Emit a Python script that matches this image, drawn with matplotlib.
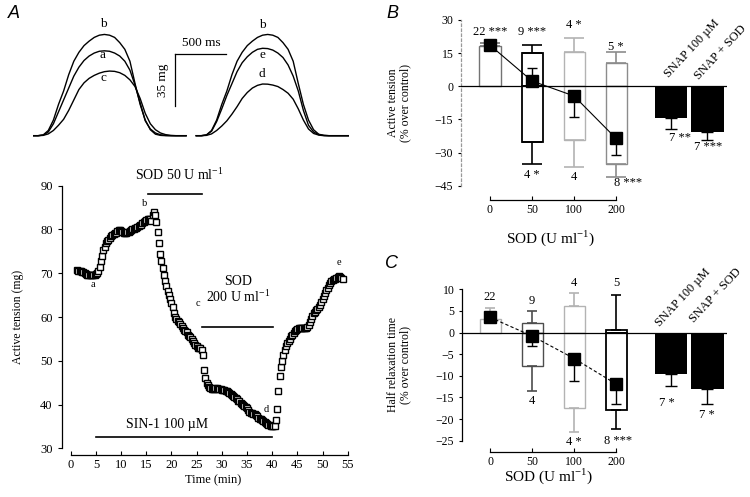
import numpy as np
import matplotlib
matplotlib.use("Agg")
import matplotlib.pyplot as plt

plt.rcParams['font.family'] = ['Liberation Serif', 'DejaVu Serif']
plt.rcParams['mathtext.fontset'] = 'custom'
plt.rcParams['mathtext.rm'] = 'Liberation Serif'
plt.rcParams['axes.linewidth'] = 0.9

# ---------------- DATA ----------------
# A (top): single twitches, mg above baseline, one sample every 50 ms
trace_ms = list(range(0, 1501, 50))
trace_b = [0, 0, 0.5, 3.5, 10.5, 21, 30, 41, 50, 56, 60.5, 63.5, 66, 67.5, 68, 67.5,
           66, 62.5, 58, 50, 35, 21, 10.5, 4, 1, 0.2, 0, 0, 0, 0, 0]
trace_a = [0, 0, 0.4, 2.5, 8, 16, 24, 32, 40, 46, 50.5, 53.5, 55.5, 56.7, 57, 56.7,
           55.5, 53.5, 50, 44, 34, 22, 10, 4.5, 1.8, 0.6, 0.2, 0, 0, 0, 0]
trace_c = [0, 0, 0.2, 1.2, 3.5, 7, 11, 17, 24, 31, 35.5, 38.5, 40.5, 42, 43, 43.4,
           43.2, 42.3, 40.5, 37.5, 33, 25, 15, 8, 4, 1.8, 0.7, 0.2, 0, 0, 0]
trace_e = [0, 0, 0.5, 3, 9.5, 18, 27, 35, 43, 49, 53, 56, 58, 58.7, 58.5, 57.5,
           55.5, 52.5, 47.5, 40, 30, 17, 7, 2.5, 0.7, 0.2, 0, 0, 0, 0, 0]
trace_d = [0, 0, 0.2, 1.2, 3.5, 6.5, 10, 14.5, 19.5, 25, 29, 32, 33.8, 34.7, 34.6, 34,
           33, 31, 28.5, 24.5, 18, 10.5, 4.5, 1.5, 0.4, 0, 0, 0, 0, 0, 0]

# A (bottom): active tension (mg), one point every 0.25 min from 1.25 min
tension = [
    70.7, 70.6, 70.5, 70.4, 70.3, 70.2, 70.0, 69.8,
    69.7, 69.6, 69.5, 69.6, 69.5, 69.6, 69.7, 69.8,
    70.0, 70.6, 71.5, 72.8, 74.0, 75.2, 76.0, 76.8,
    77.3, 77.7, 78.1, 78.5, 78.8, 79.0, 79.1, 79.3,
    79.6, 79.8, 79.9, 79.7, 79.4, 79.2, 79.1, 79.2,
    79.4, 79.5, 79.7, 79.9, 80.1, 80.2, 80.3, 80.4,
    80.6, 80.8, 81.0, 81.1, 81.4, 81.7, 82.0, 82.2,
    82.3, 82.3, 82.4, 82.0, 83.3, 84.1, 83.4, 81.8,
    79.5, 76.8, 74.4, 72.7, 71.2, 69.7, 68.3, 67.0,
    65.9, 65.0, 64.0, 63.2, 62.2, 61.0, 60.0, 59.5,
    59.0, 58.8, 58.4, 57.9, 57.4, 57.1, 56.9, 56.5,
    56.0, 55.7, 55.4, 55.0, 54.5, 54.0, 53.6, 53.3,
    53.0, 52.9, 52.9, 52.4, 51.3, 47.9, 46.0, 45.0,
    44.4, 44.0, 43.8, 43.6, 43.5, 43.6, 43.7, 43.7,
    43.6, 43.5, 43.5, 43.4, 43.3, 43.3, 43.2, 43.0,
    42.8, 42.6, 42.4, 42.2, 42.0, 41.8, 41.5, 41.2,
    40.9, 40.7, 40.4, 40.1, 39.8, 39.6, 39.4, 39.1,
    38.8, 38.4, 38.1, 38.0, 37.9, 37.8, 37.6, 37.3,
    37.0, 36.8, 36.6, 36.4, 36.2, 36.0, 35.8, 35.6,
    35.4, 35.3, 35.2, 35.1, 35.1, 35.2, 36.5, 39.0,
    43.0, 46.5, 48.5, 50.0, 51.3, 52.4, 53.4, 54.1,
    54.6, 55.0, 55.6, 56.0, 56.4, 56.8, 57.1, 57.3,
    57.4, 57.5, 57.5, 57.5, 57.4, 57.5, 57.6, 57.8,
    58.2, 58.8, 59.5, 60.2, 60.8, 61.2, 61.5, 61.9,
    62.3, 62.8, 63.5, 64.2, 64.9, 65.5, 66.1, 66.7,
    67.3, 67.8, 68.2, 68.5, 68.6, 68.7, 68.9, 69.1,
    69.3, 69.2, 68.9, 68.6,
]
time_min = 1.25 + 0.25 * np.arange(len(tension))
point_letters = ['a', 'b', 'c', 'd', 'e']

# B / C: SOD doses and SNAP groups
doses = ['0', '50', '100', '200']
snap_names = ['SNAP 100 \u00b5M', 'SNAP + SOD']

# B: active tension (% over control)
b_up_mean = [18.2, 15.2, 15.4, 10.5]
b_up_err = [1.4, 3.5, 6.3, 5.0]
b_down_mean = [np.nan, -25.1, -24.3, -35.2]
b_down_err = [np.nan, 10.1, 12.1, 6.0]
b_all_mean = [18.6, 2.4, -4.4, -23.6]
b_all_err_low = [0, 0, 9.6, 7.5]
b_all_err_high = [0, 6.0, 0, 0]
b_snap_mean = [-14.5, -20.6]
b_snap_err = [5.0, 3.7]
b_up_n = ['22 ***', '9 ***', '4 *', '5 *']
b_down_n = ['', '4 *', '4', '8 ***']
b_snap_n = ['7 **', '7 ***']

# C: half relaxation time (% over control)
c_up_mean = [3.2, 2.3, 6.2, 0.6]
c_up_err = [2.4, 2.6, 2.9, 8.1]
c_down_mean = [np.nan, -7.7, -17.5, -17.9]
c_down_err = [np.nan, 5.9, 5.5, 4.4]
c_all_mean = [3.5, -0.8, -6.0, -11.9]
c_all_err_low = [0, 2.4, 5.2, 4.6]
c_all_err_high = [0, 0, 0, 0]
c_snap_mean = [-9.6, -13.1]
c_snap_err = [2.7, 3.5]
c_up_n = ['22', '9', '4', '5']
c_down_n = ['', '4', '4 *', '8 ***']
c_snap_n = ['7 *', '7 *']

# ---------------- FIGURE ----------------
W, H = 750, 497
fig = plt.figure(figsize=(W / 100, H / 100), dpi=100)


def px_axes(left, top, right, bottom):
    return fig.add_axes([left / W, 1 - bottom / H, (right - left) / W, (bottom - top) / H])


# ---- A top: traces ----
ax_t = px_axes(33, 20, 349, 140)
ax_t.set_xlim(0, 3097)
ax_t.set_ylim(-2.9, 77.7)
ax_t.axis('off')
shift = 1600
for tr in (trace_b, trace_a, trace_c):
    ax_t.plot(trace_ms, tr, color='k', lw=1.0)
for tr in (trace_b, trace_e, trace_d):
    ax_t.plot([t + shift for t in trace_ms], tr, color='k', lw=1.0)
for lab, y in zip(['b', 'a', 'c'], [75, 54.2, 38.5]):
    ax_t.text(686, y, lab, ha='center', va='center', fontsize=9.5)
for lab, y in zip(['b', 'e', 'd'], [74.3, 54.2, 41.4]):
    ax_t.text(2245, y, lab, ha='center', va='center', fontsize=9.5)
# scale bars
ax_t.plot([1392, 1892], [54.8, 54.8], color='k', lw=0.9)
ax_t.plot([1392, 1392], [54.8, 19.8], color='k', lw=0.9)
ax_t.text(1646, 62.2, '500 ms', ha='center', va='center', fontsize=9.5)
ax_t.text(1274, 37.3, '35 mg', ha='center', va='center', rotation=90, fontsize=9.5)

# ---- A bottom: time course ----
ax_a = px_axes(70.7, 185.7, 347.7, 448.3)
ax_a.plot(time_min, tension, 's', ms=3.8, mfc='white', mec='k', mew=1.0)
ax_a.set_xlim(0, 55)
ax_a.set_ylim(30, 90)
ax_a.spines[['top', 'right']].set_visible(False)
ax_a.spines['left'].set_position(('outward', 6.5))
ax_a.spines['bottom'].set_position(('outward', 4.8))
ax_a.set_xticks(range(0, 56, 5))
ax_a.set_yticks(range(30, 91, 10))
ax_a.tick_params(axis='x', direction='in', length=3, labelsize=9, pad=3)
ax_a.tick_params(axis='y', direction='out', length=3, labelsize=9)
ax_a.set_xlabel('Time (min)', fontsize=9)
ax_a.xaxis.set_label_coords(0.514, -0.1)
ax_a.set_ylabel('Active tension (mg)', fontsize=8.5)
ax_a.yaxis.set_label_coords(-0.17, 0.5)

ax_a.plot([15.4, 26.1], [88.0, 88.0], color='k', lw=1.2, clip_on=False)
ax_a.text(21.6, 92.5, 'SOD 50 U ml$^{\\mathregular{-1}}$', ha='center', va='center',
          fontsize=10, clip_on=False)
ax_a.plot([26.0, 40.2], [57.8, 57.8], color='k', lw=1.2)
ax_a.text(33.2, 68.0, 'SOD', ha='center', va='center', fontsize=10)
ax_a.text(33.2, 64.6, '200 U ml$^{\\mathregular{-1}}$', ha='center', va='center', fontsize=10)
ax_a.plot([5, 40], [32.6, 32.6], color='k', lw=1.2)
ax_a.text(19.1, 35.4, 'SIN-1 100 \u00b5M', ha='center', va='center', fontsize=10)
for lab, (tx, ty) in zip(point_letters, [(4.5, 67.5), (14.75, 86.0), (25.3, 63.1),
                                          (38.9, 38.8), (53.3, 72.4)]):
    ax_a.text(tx, ty, lab, ha='center', va='center', fontsize=7.5)

# ---- B and C ----
dose_x = np.array([0, 1, 2, 3])
snap_x = np.array([4.31, 5.17])
snap_w = [0.76, 0.79]


def bar_panel(ax, up_mean, up_err, down_mean, down_err, all_mean, all_low, all_high,
              snap_mean, snap_err, edge, capw, line_style):
    for i, x in enumerate(dose_x):
        lw = 1.0 if edge[i] != 'k' else 1.3
        ax.bar(x, up_mean[i], width=0.5, color='white', edgecolor=edge[i], lw=lw, zorder=2)
        ax.errorbar(x, up_mean[i], yerr=[[0], [up_err[i]]], fmt='none', ecolor=edge[i],
                    elinewidth=1.2, capsize=capw, capthick=1.2, zorder=2)
        if not np.isnan(down_mean[i]):
            ax.bar(x, down_mean[i], width=0.5, color='white', edgecolor=edge[i], lw=lw, zorder=2)
            ax.errorbar(x, down_mean[i], yerr=[[down_err[i]], [0]], fmt='none', ecolor=edge[i],
                        elinewidth=1.2, capsize=capw, capthick=1.2, zorder=2)
    ax.bar(snap_x, snap_mean, width=snap_w, color='black', zorder=2)
    ax.errorbar(snap_x, snap_mean, yerr=[snap_err, [0, 0]], fmt='none', ecolor='k',
                elinewidth=1.0, capsize=4, capthick=1.0, zorder=2)
    ax.axhline(0, color='k', lw=0.9, zorder=3)
    ax.plot(dose_x, all_mean, color='k', lw=0.8, ls=line_style, zorder=4)
    ax.errorbar(dose_x, all_mean, yerr=[all_low, all_high], fmt='s', ms=8.5, mfc='k',
                mec='k', ecolor='k', elinewidth=1.0, capsize=3.5, capthick=1.0, zorder=5)
    ax.set_xlim(-0.69, 5.64)
    ax.spines[['top', 'right']].set_visible(False)
    ax.spines['bottom'].set_bounds(0, 3)
    ax.set_xticks(dose_x)
    ax.set_xticklabels(doses)
    ax.tick_params(axis='x', direction='in', length=3, labelsize=8.5, pad=3)
    ax.tick_params(axis='y', direction='out', length=2, labelsize=8.5)


# B
ax_b = px_axes(461, 20, 727, 185.7)
bar_panel(ax_b, b_up_mean, b_up_err, b_down_mean, b_down_err, b_all_mean,
          b_all_err_low, b_all_err_high, b_snap_mean, b_snap_err,
          ['0.45', 'k', '0.7', '0.55'], 7.5, '-')
ax_b.set_ylim(-45, 30)
ax_b.set_yticks([30, 15, 0, -15, -30, -45])
ax_b.spines['bottom'].set_position(('outward', 10.3))
ax_b.spines['left'].set_color('0.6')
ax_b.spines['left'].set_linestyle((0, (2, 2)))
ax_b.set_ylabel('Active tension\n(% over control)', fontsize=8.5, linespacing=1.1)
ax_b.yaxis.set_label_coords(-0.185, 0.5)
ax_b.set_xlabel('SOD (U ml$^{\\mathregular{-1}}$)', fontsize=11)
ax_b.xaxis.set_label_coords(0.335, -0.26)
for x, lab, y in zip(dose_x, b_up_n, [24.7, 24.7, 27.7, 17.9]):
    ax_b.text(x, y, lab, ha='center', va='center', fontsize=9, clip_on=False)
for x, lab, y in zip([1, 2, 3.29], b_down_n[1:], [-40.2, -40.9, -43.9]):
    ax_b.text(x, y, lab, ha='center', va='center', fontsize=9, clip_on=False)
for x, lab, y in zip([4.52, 5.19], b_snap_n, [-23.6, -27.4]):
    ax_b.text(x, y, lab, ha='center', va='center', fontsize=9)
for x, lab, y in zip([4.81, 5.48], snap_names, [16.9, 15.5]):
    ax_b.text(x, y, lab, ha='center', va='center', rotation=47, fontsize=9, clip_on=False)

# C
ax_c = px_axes(462, 289.3, 727, 440.7)
bar_panel(ax_c, c_up_mean, c_up_err, c_down_mean, c_down_err, c_all_mean,
          c_all_err_low, c_all_err_high, c_snap_mean, c_snap_err,
          ['0.7', '0.3', '0.7', 'k'], 3.5, (0, (3, 2)))
ax_c.set_xlim(-0.67, 5.64)
ax_c.set_ylim(-25, 10)
ax_c.set_yticks(range(10, -26, -5))
ax_c.spines['bottom'].set_position(('outward', 7.9))
ax_c.set_ylabel('Half relaxation time\n(% over control)', fontsize=8.5, linespacing=1.1)
ax_c.yaxis.set_label_coords(-0.19, 0.5)
ax_c.set_xlabel('SOD (U ml$^{\\mathregular{-1}}$)', fontsize=11)
ax_c.xaxis.set_label_coords(0.326, -0.17)
for x, lab, y in zip(dose_x, c_up_n, [8.3, 7.2, 11.4, 11.4]):
    ax_c.text(x, y, lab, ha='center', va='center', fontsize=9, clip_on=False)
for x, lab, y in zip([1, 2, 3.05], c_down_n[1:], [-15.9, -25.2, -25.0]):
    ax_c.text(x, y, lab, ha='center', va='center', fontsize=9, clip_on=False)
for x, lab, y in zip([4.2, 5.16], c_snap_n, [-16.3, -19.0]):
    ax_c.text(x, y, lab, ha='center', va='center', fontsize=9)
for x, lab, y in zip([4.6, 5.36], snap_names, [8.0, 8.5]):
    ax_c.text(x, y, lab, ha='center', va='center', rotation=47, fontsize=9, clip_on=False)

# panel letters
for lab, (px, py) in zip(['A', 'B', 'C'], [(14, 13), (392, 13), (391, 264)]):
    fig.text(px / W, 1 - py / H, lab, ha='center', va='center', fontsize=13,
             style='italic', family='Liberation Sans')

fig.savefig('out.png', dpi=100)
